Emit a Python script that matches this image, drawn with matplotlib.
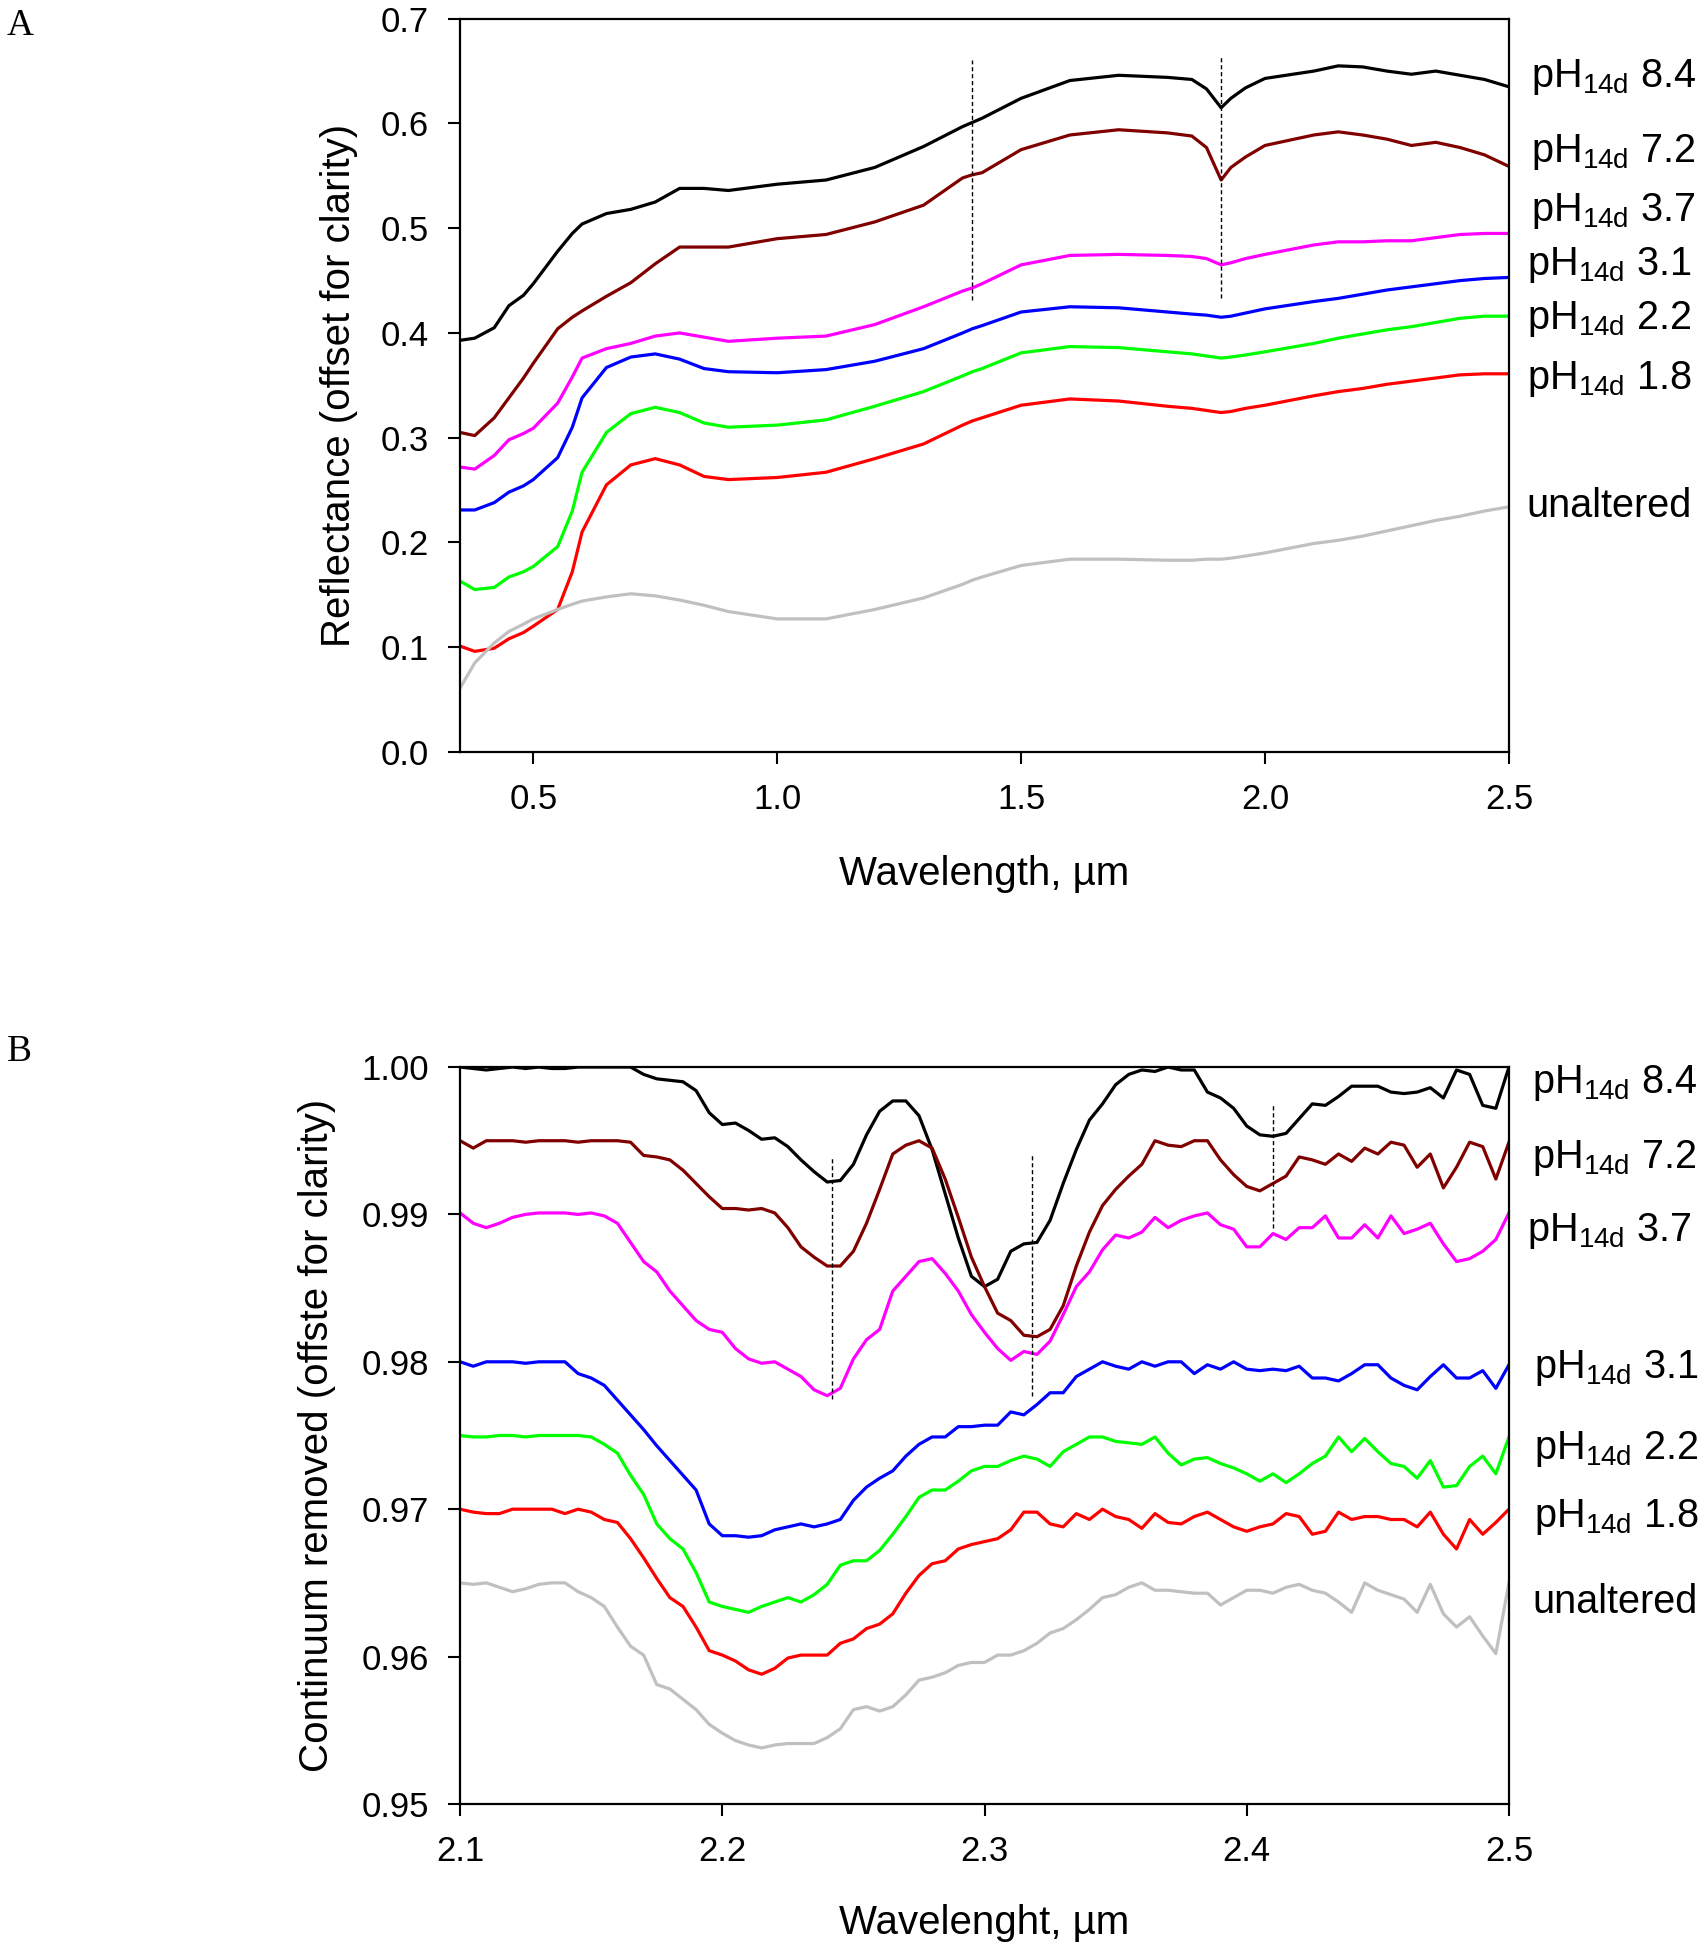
import numpy as np
import matplotlib
matplotlib.use("Agg")
import matplotlib.pyplot as plt

plt.rcParams['font.family'] = ['Liberation Sans', 'DejaVu Sans']
plt.rcParams['mathtext.fontset'] = 'custom'
plt.rcParams['mathtext.rm'] = 'Liberation Sans'

# ---------------- Panel A data ----------------
wl_a = [0.35, 0.38, 0.42, 0.45, 0.48, 0.50, 0.55, 0.58, 0.60, 0.65, 0.70, 0.75, 0.80, 0.85,
        0.90, 1.00, 1.10, 1.20, 1.30, 1.38, 1.40, 1.42, 1.50, 1.60, 1.70, 1.80, 1.85, 1.88,
        1.91, 1.93, 1.96, 2.00, 2.10, 2.15, 2.20, 2.25, 2.30, 2.35, 2.40, 2.45, 2.50]
a_ph84 = [0.393, 0.395, 0.405, 0.426, 0.436, 0.447, 0.478, 0.495, 0.504, 0.514, 0.518, 0.525, 0.538, 0.538,
          0.536, 0.542, 0.546, 0.558, 0.578, 0.597, 0.601, 0.605, 0.624, 0.641, 0.646, 0.644, 0.642, 0.633,
          0.615, 0.624, 0.634, 0.643, 0.650, 0.655, 0.654, 0.650, 0.647, 0.650, 0.646, 0.642, 0.635]
a_ph72 = [0.305, 0.302, 0.319, 0.338, 0.357, 0.371, 0.404, 0.415, 0.421, 0.435, 0.448, 0.466, 0.482, 0.482,
          0.482, 0.490, 0.494, 0.506, 0.522, 0.548, 0.551, 0.553, 0.575, 0.589, 0.594, 0.591, 0.588, 0.577,
          0.546, 0.558, 0.568, 0.579, 0.589, 0.592, 0.589, 0.585, 0.579, 0.582, 0.577, 0.570, 0.559]
a_ph37 = [0.272, 0.270, 0.283, 0.298, 0.304, 0.309, 0.333, 0.358, 0.376, 0.385, 0.390, 0.397, 0.400, 0.396,
          0.392, 0.395, 0.397, 0.408, 0.425, 0.440, 0.443, 0.447, 0.465, 0.474, 0.475, 0.474, 0.473, 0.471,
          0.465, 0.467, 0.471, 0.475, 0.484, 0.487, 0.487, 0.488, 0.488, 0.491, 0.494, 0.495, 0.495]
a_ph31 = [0.231, 0.231, 0.238, 0.248, 0.254, 0.260, 0.281, 0.310, 0.338, 0.367, 0.377, 0.380, 0.375, 0.366,
          0.363, 0.362, 0.365, 0.373, 0.385, 0.400, 0.404, 0.407, 0.420, 0.425, 0.424, 0.420, 0.418, 0.417,
          0.415, 0.416, 0.419, 0.423, 0.430, 0.433, 0.437, 0.441, 0.444, 0.447, 0.450, 0.452, 0.453]
a_ph22 = [0.163, 0.155, 0.157, 0.167, 0.172, 0.177, 0.196, 0.230, 0.267, 0.305, 0.323, 0.329, 0.324, 0.314,
          0.310, 0.312, 0.317, 0.330, 0.344, 0.359, 0.363, 0.366, 0.381, 0.387, 0.386, 0.382, 0.380, 0.378,
          0.376, 0.377, 0.379, 0.382, 0.390, 0.395, 0.399, 0.403, 0.406, 0.410, 0.414, 0.416, 0.416]
a_ph18 = [0.101, 0.096, 0.099, 0.108, 0.114, 0.120, 0.136, 0.172, 0.210, 0.255, 0.274, 0.280, 0.274, 0.263,
          0.260, 0.262, 0.267, 0.280, 0.294, 0.312, 0.316, 0.319, 0.331, 0.337, 0.335, 0.330, 0.328, 0.326,
          0.324, 0.325, 0.328, 0.331, 0.340, 0.344, 0.347, 0.351, 0.354, 0.357, 0.360, 0.361, 0.361]
a_unalt = [0.061, 0.085, 0.104, 0.115, 0.122, 0.127, 0.136, 0.141, 0.144, 0.148, 0.151, 0.149, 0.145, 0.140,
           0.134, 0.127, 0.127, 0.136, 0.147, 0.160, 0.164, 0.167, 0.178, 0.184, 0.184, 0.183, 0.183, 0.184,
           0.184, 0.185, 0.187, 0.190, 0.199, 0.202, 0.206, 0.211, 0.216, 0.221, 0.225, 0.230, 0.234]
a_label_y = [0.644, 0.573, 0.516, 0.465, 0.413, 0.356, 0.235]
a_dash_x = [1.40, 1.91]
a_dash_y0 = [0.431, 0.433]
a_dash_y1 = [0.661, 0.663]

# ---------------- Panel B data ----------------
wl_b = np.round(np.linspace(2.10, 2.50, 81), 3)
b_ph84 = [1.0000, 0.9999, 0.9998, 0.9999, 1.0000, 0.9999, 1.0000, 0.9999, 0.9999, 1.0000,
          1.0000, 1.0000, 1.0000, 1.0000, 0.9995, 0.9992, 0.9991, 0.9990, 0.9984, 0.9969,
          0.9961, 0.9962, 0.9957, 0.9951, 0.9952, 0.9946, 0.9937, 0.9929, 0.9922, 0.9923,
          0.9934, 0.9954, 0.9970, 0.9977, 0.9977, 0.9967, 0.9944, 0.9914, 0.9884, 0.9858,
          0.9851, 0.9856, 0.9875, 0.9880, 0.9881, 0.9896, 0.9921, 0.9944, 0.9964, 0.9975,
          0.9988, 0.9995, 0.9998, 0.9997, 1.0000, 0.9998, 0.9998, 0.9983, 0.9979, 0.9972,
          0.9960, 0.9954, 0.9953, 0.9955, 0.9965, 0.9975, 0.9974, 0.9980, 0.9987, 0.9987,
          0.9987, 0.9983, 0.9982, 0.9983, 0.9986, 0.9979, 0.9998, 0.9995, 0.9974, 0.9972, 1.0000]
b_ph72 = [0.9950, 0.9945, 0.9950, 0.9950, 0.9950, 0.9949, 0.9950, 0.9950, 0.9950, 0.9949,
          0.9950, 0.9950, 0.9950, 0.9949, 0.9940, 0.9939, 0.9937, 0.9930, 0.9921, 0.9912,
          0.9904, 0.9904, 0.9903, 0.9904, 0.9901, 0.9891, 0.9878, 0.9871, 0.9865, 0.9865,
          0.9875, 0.9894, 0.9917, 0.9941, 0.9947, 0.9950, 0.9945, 0.9924, 0.9898, 0.9871,
          0.9851, 0.9833, 0.9828, 0.9818, 0.9817, 0.9822, 0.9838, 0.9865, 0.9888, 0.9906,
          0.9917, 0.9926, 0.9934, 0.9950, 0.9947, 0.9946, 0.9950, 0.9950, 0.9937, 0.9927,
          0.9919, 0.9916, 0.9921, 0.9926, 0.9939, 0.9937, 0.9934, 0.9941, 0.9936, 0.9945,
          0.9941, 0.9949, 0.9947, 0.9932, 0.9941, 0.9918, 0.9932, 0.9949, 0.9946, 0.9924, 0.9949]
b_ph37 = [0.9901, 0.9894, 0.9891, 0.9894, 0.9898, 0.9900, 0.9901, 0.9901, 0.9901, 0.9900,
          0.9901, 0.9899, 0.9894, 0.9881, 0.9868, 0.9861, 0.9848, 0.9838, 0.9828, 0.9822,
          0.9820, 0.9809, 0.9802, 0.9799, 0.9800, 0.9795, 0.9790, 0.9781, 0.9777, 0.9782,
          0.9802, 0.9815, 0.9822, 0.9848, 0.9858, 0.9868, 0.9870, 0.9860, 0.9848, 0.9832,
          0.9820, 0.9809, 0.9801, 0.9807, 0.9805, 0.9814, 0.9832, 0.9851, 0.9861, 0.9876,
          0.9886, 0.9884, 0.9888, 0.9898, 0.9891, 0.9896, 0.9899, 0.9901, 0.9893, 0.9890,
          0.9878, 0.9878, 0.9887, 0.9883, 0.9891, 0.9891, 0.9899, 0.9884, 0.9884, 0.9893,
          0.9884, 0.9899, 0.9887, 0.9890, 0.9894, 0.9880, 0.9868, 0.9870, 0.9875, 0.9883, 0.9901]
b_ph31 = [0.9800, 0.9797, 0.9800, 0.9800, 0.9800, 0.9799, 0.9800, 0.9800, 0.9800, 0.9792,
          0.9789, 0.9784, 0.9774, 0.9764, 0.9754, 0.9743, 0.9733, 0.9723, 0.9713, 0.9690,
          0.9682, 0.9682, 0.9681, 0.9682, 0.9686, 0.9688, 0.9690, 0.9688, 0.9690, 0.9693,
          0.9706, 0.9715, 0.9721, 0.9726, 0.9736, 0.9744, 0.9749, 0.9749, 0.9756, 0.9756,
          0.9757, 0.9757, 0.9766, 0.9764, 0.9771, 0.9779, 0.9779, 0.9790, 0.9795, 0.9800,
          0.9797, 0.9795, 0.9800, 0.9797, 0.9800, 0.9800, 0.9792, 0.9798, 0.9795, 0.9800,
          0.9795, 0.9794, 0.9795, 0.9794, 0.9797, 0.9789, 0.9789, 0.9787, 0.9792, 0.9798,
          0.9798, 0.9789, 0.9784, 0.9781, 0.9790, 0.9798, 0.9789, 0.9789, 0.9794, 0.9782, 0.9798]
b_ph22 = [0.9750, 0.9749, 0.9749, 0.9750, 0.9750, 0.9749, 0.9750, 0.9750, 0.9750, 0.9750,
          0.9749, 0.9744, 0.9738, 0.9723, 0.9710, 0.9690, 0.9680, 0.9673, 0.9657, 0.9637,
          0.9634, 0.9632, 0.9630, 0.9634, 0.9637, 0.9640, 0.9637, 0.9642, 0.9649, 0.9662,
          0.9665, 0.9665, 0.9672, 0.9683, 0.9695, 0.9708, 0.9713, 0.9713, 0.9719, 0.9726,
          0.9729, 0.9729, 0.9733, 0.9736, 0.9734, 0.9729, 0.9739, 0.9744, 0.9749, 0.9749,
          0.9746, 0.9745, 0.9744, 0.9749, 0.9738, 0.9730, 0.9734, 0.9735, 0.9731, 0.9728,
          0.9724, 0.9719, 0.9724, 0.9718, 0.9724, 0.9731, 0.9736, 0.9749, 0.9739, 0.9748,
          0.9739, 0.9731, 0.9729, 0.9721, 0.9733, 0.9715, 0.9716, 0.9729, 0.9736, 0.9724, 0.9749]
b_ph18 = [0.9700, 0.9698, 0.9697, 0.9697, 0.9700, 0.9700, 0.9700, 0.9700, 0.9697, 0.9700,
          0.9698, 0.9693, 0.9691, 0.9680, 0.9667, 0.9653, 0.9640, 0.9634, 0.9620, 0.9604,
          0.9601, 0.9597, 0.9591, 0.9588, 0.9592, 0.9599, 0.9601, 0.9601, 0.9601, 0.9609,
          0.9612, 0.9619, 0.9622, 0.9629, 0.9643, 0.9655, 0.9663, 0.9665, 0.9673, 0.9676,
          0.9678, 0.9680, 0.9686, 0.9698, 0.9698, 0.9690, 0.9688, 0.9697, 0.9693, 0.9700,
          0.9695, 0.9693, 0.9687, 0.9697, 0.9691, 0.9690, 0.9695, 0.9698, 0.9693, 0.9688,
          0.9685, 0.9688, 0.9690, 0.9697, 0.9695, 0.9683, 0.9685, 0.9698, 0.9693, 0.9695,
          0.9695, 0.9693, 0.9693, 0.9688, 0.9698, 0.9683, 0.9673, 0.9693, 0.9683, 0.9691, 0.9700]
b_unalt = [0.9650, 0.9649, 0.9650, 0.9647, 0.9644, 0.9646, 0.9649, 0.9650, 0.9650, 0.9644,
           0.9640, 0.9634, 0.9620, 0.9607, 0.9601, 0.9581, 0.9578, 0.9571, 0.9564, 0.9554,
           0.9548, 0.9543, 0.9540, 0.9538, 0.9540, 0.9541, 0.9541, 0.9541, 0.9545, 0.9551,
           0.9564, 0.9566, 0.9563, 0.9566, 0.9574, 0.9584, 0.9586, 0.9589, 0.9594, 0.9596,
           0.9596, 0.9601, 0.9601, 0.9604, 0.9609, 0.9616, 0.9619, 0.9625, 0.9632, 0.9640,
           0.9642, 0.9647, 0.9650, 0.9645, 0.9645, 0.9644, 0.9643, 0.9643, 0.9635, 0.9640,
           0.9645, 0.9645, 0.9643, 0.9647, 0.9649, 0.9645, 0.9643, 0.9637, 0.9630, 0.9650,
           0.9645, 0.9642, 0.9639, 0.9630, 0.9649, 0.9629, 0.9620, 0.9627, 0.9614, 0.9602, 0.9650]
b_label_y = [0.9989, 0.9938, 0.9889, 0.9796, 0.9741, 0.9695, 0.9637]
b_dash_x = [2.242, 2.318, 2.410]
b_dash_y0 = [0.9775, 0.9777, 0.9891]
b_dash_y1 = [0.9938, 0.9941, 0.9975]

labels = [r'pH$_{\mathregular{14d}}$ 8.4', r'pH$_{\mathregular{14d}}$ 7.2', r'pH$_{\mathregular{14d}}$ 3.7',
          r'pH$_{\mathregular{14d}}$ 3.1', r'pH$_{\mathregular{14d}}$ 2.2', r'pH$_{\mathregular{14d}}$ 1.8',
          'unaltered']
colors = ['#000000', '#800000', '#FF00FF', '#0000FF', '#00FF00', '#FF0000', '#C0C0C0']

fig = plt.figure(figsize=(17.06, 19.50), dpi=100)
axA = fig.add_axes([0.2697, 0.6144, 0.6148, 0.3760])
axB = fig.add_axes([0.2697, 0.0749, 0.6148, 0.3779])

TICK_FS = 25
LAB_FS = 29
TXT_FS = 28.5

def style(ax):
    for s in ax.spines.values():
        s.set_linewidth(1.6)
    ax.tick_params(direction='out', length=8.5, width=1.5, labelsize=TICK_FS, pad=14,
                   top=False, right=False)

# Panel A
series_a = [a_ph84, a_ph72, a_ph37, a_ph31, a_ph22, a_ph18, a_unalt]
for ys, c in zip(series_a, colors):
    axA.plot(wl_a, ys, color=c, lw=2.3, solid_joinstyle='round')
for x, y0, y1 in zip(a_dash_x, a_dash_y0, a_dash_y1):
    axA.plot([x, x], [y0, y1], color='black', lw=1.0, ls=(0, (3, 2)))
axA.set_xlim(0.35, 2.5)
axA.set_ylim(0.0, 0.7)
axA.set_xticks([0.5, 1.0, 1.5, 2.0, 2.5])
axA.set_yticks([0.0, 0.1, 0.2, 0.3, 0.4, 0.5, 0.6, 0.7])
axA.xaxis.set_major_formatter(matplotlib.ticker.FormatStrFormatter('%.1f'))
axA.yaxis.set_major_formatter(matplotlib.ticker.FormatStrFormatter('%.1f'))
style(axA)
axA.set_xlabel('Wavelength, µm', fontsize=LAB_FS, labelpad=28)
axA.set_ylabel('Reflectance (offset for clarity)', fontsize=LAB_FS, labelpad=16)
a_label_x = [1.021, 1.021, 1.021, 1.017, 1.017, 1.017, 1.017]
for lab, y, xx in zip(labels, a_label_y, a_label_x):
    axA.text(xx, y, lab, transform=axA.get_yaxis_transform(), fontsize=TXT_FS,
             va='center', ha='left')

# Panel B
series_b = [b_ph84, b_ph72, b_ph37, b_ph31, b_ph22, b_ph18, b_unalt]
for ys, c in zip(series_b, colors):
    axB.plot(wl_b, ys, color=c, lw=2.3, solid_joinstyle='round')
for x, y0, y1 in zip(b_dash_x, b_dash_y0, b_dash_y1):
    axB.plot([x, x], [y0, y1], color='black', lw=1.0, ls=(0, (3, 2)))
axB.set_xlim(2.1, 2.5)
axB.set_ylim(0.95, 1.0)
axB.set_xticks([2.1, 2.2, 2.3, 2.4, 2.5])
axB.set_yticks([0.95, 0.96, 0.97, 0.98, 0.99, 1.00])
axB.xaxis.set_major_formatter(matplotlib.ticker.FormatStrFormatter('%.1f'))
axB.yaxis.set_major_formatter(matplotlib.ticker.FixedFormatter(['0.95', '0.96', '0.97', '0.98', '0.99', '1.00']))
style(axB)
axB.set_xlabel('Wavelenght, µm', fontsize=LAB_FS, labelpad=26)
axB.set_ylabel('Continuum removed (offste for clarity)', fontsize=LAB_FS, labelpad=18)
b_label_x = [1.022, 1.022, 1.017, 1.024, 1.024, 1.024, 1.022]
for lab, y, xx in zip(labels, b_label_y, b_label_x):
    axB.text(xx, y, lab, transform=axB.get_yaxis_transform(), fontsize=TXT_FS,
             va='center', ha='left')

fig.text(0.004, 0.987, 'A', fontsize=27, family='Liberation Serif', va='center', ha='left')
fig.text(0.004, 0.4605, 'B', fontsize=27, family='Liberation Serif', va='center', ha='left')

fig.savefig('out.png', dpi=100)
